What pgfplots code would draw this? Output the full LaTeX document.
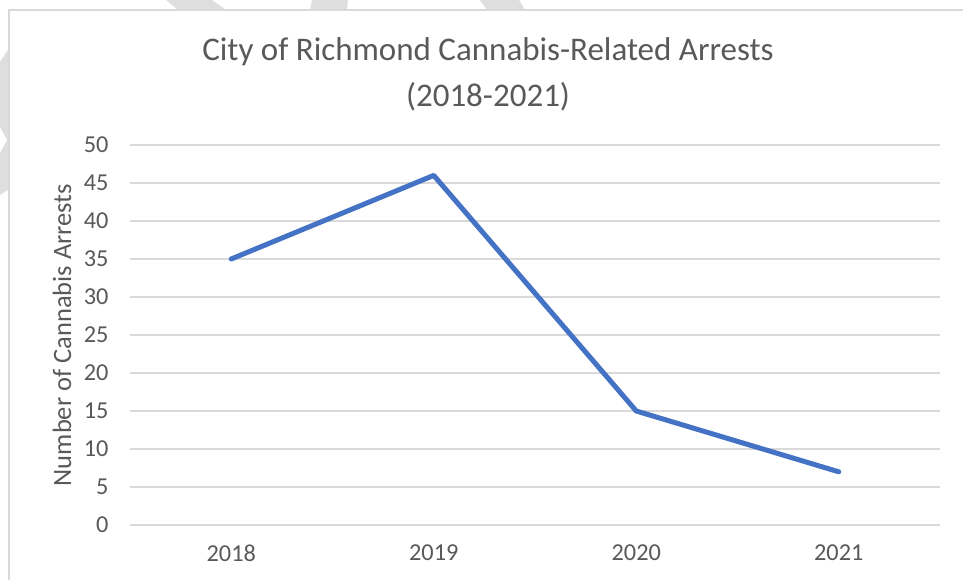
\documentclass[border=0pt]{standalone}
\usepackage{pgfplots}
\pgfplotsset{compat=1.18}
\usepackage{fontspec}
\setmainfont{Carlito}
\definecolor{txt}{HTML}{595959}
\definecolor{grid}{HTML}{D9D9D9}
\definecolor{ln}{HTML}{4472C4}
\definecolor{wm}{HTML}{DEDEDE}
\begin{document}
\begin{tikzpicture}[x=1pt,y=1pt]
\path[use as bounding box] (-130,-55) rectangle (833,525);
% decorative background bands
\fill[wm] (36,525) -- (82,525) -- (96,515) -- (48,515) -- cycle;
\fill[wm] (182,525) -- (218,525) -- (217,515) -- (180,515) -- cycle;
\fill[wm] (350,525) -- (389,525) -- (395,515) -- (357,515) -- cycle;
\fill[wm] (-130,463) -- (-122,475) -- (-122,335) -- (-130,330) -- cycle;
\fill[white] (-130,398) -- (-123,385) -- (-130,372) -- cycle;
% chart border
\draw[grid, line width=1.5pt] (-121,-60) -- (-121,515) -- (840,515);
\begin{axis}[
  scale only axis,
  width=810pt, height=380pt,
  xmin=-0.5, xmax=3.5,
  ymin=0, ymax=50,
  xtick={0,1,2,3},
  xticklabels={2018,2019,2020,2021},
  ytick={0,5,...,50},
  xmajorgrids=false,
  ymajorgrids=true,
  y grid style={grid, line width=1.5pt},
  axis line style={draw=none},
  tick style={draw=none},
  major tick length=0pt,
  tick label style={font=\fontsize{24.3}{28}\selectfont, text=txt},
  /pgf/number format/assume math mode=true,
  xticklabel style={yshift=-16pt},
  yticklabel style={xshift=-18pt},
  ylabel={Number of Cannabis Arrests},
  every axis y label/.style={at={(rel axis cs:0,0.5)}, xshift=-68pt, rotate=90, anchor=center, font=\fontsize{26.5}{30}\selectfont, text=txt},
  clip=false,
]
\addplot[ln, line width=5pt, line join=round, line cap=round, mark=none] coordinates {
  (0,35) (1,46) (2,15) (3,7)
};
\end{axis}
\node[text=txt, font=\fontsize{33}{38}\selectfont, align=center] at (358,473) {City of Richmond Cannabis-Related Arrests};
\node[text=txt, font=\fontsize{33}{38}\selectfont, align=center] at (358,428) {(2018-2021)};
\end{tikzpicture}
\end{document}
